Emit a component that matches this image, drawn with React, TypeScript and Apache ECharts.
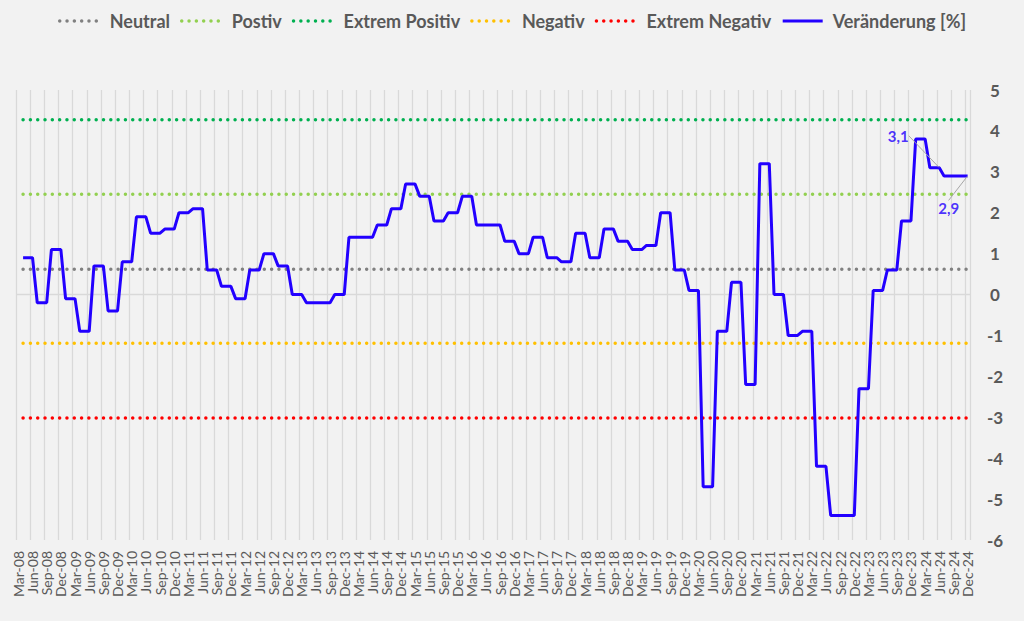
import React, { useEffect, useRef } from "react";
import * as echarts from "echarts";

// ---- tick labels ----
const MONTHS = ["Jan", "Feb", "Mar", "Apr", "May", "Jun", "Jul", "Aug", "Sep", "Oct", "Nov", "Dec"];
const FIRST_YEAR = 2008;
const FIRST_MONTH = 2; // Mar-08
const LAST_YEAR = 2024;

// ---- series values: quarterly change [%], Q2-08 ... Q4-24 (each held for the 3 months of its quarter) ----
const QUARTERLY_CHANGE = [
  0.9, -0.2, 1.1, // 2008 Q2-Q4
  -0.1, -0.9, 0.7, -0.4, // 2009
  0.8, 1.9, 1.5, 1.6, // 2010
  2.0, 2.1, 0.6, 0.2, // 2011
  -0.1, 0.6, 1.0, 0.7, // 2012
  0.0, -0.2, -0.2, 0.0, // 2013
  1.4, 1.4, 1.7, 2.1, // 2014
  2.7, 2.4, 1.8, 2.0, // 2015
  2.4, 1.7, 1.7, 1.3, // 2016
  1.0, 1.4, 0.9, 0.8, // 2017
  1.5, 0.9, 1.6, 1.3, // 2018
  1.1, 1.2, 2.0, 0.6, // 2019
  0.1, -4.7, -0.9, 0.3, // 2020
  -2.2, 3.2, 0.0, -1.0, // 2021
  -0.9, -4.2, -5.4, -5.4, // 2022
  -2.3, 0.1, 0.6, 1.8, // 2023
  3.8, 3.1, 2.9, 2.9, // 2024
];

// ---- reference levels ----
const NEUTRAL = 0.62;
const POSITIVE = 2.45;
const EXTREME_POSITIVE = 4.27;
const NEGATIVE = -1.19;
const EXTREME_NEGATIVE = -3.02;

// ---- labelled points ----
const LABELED_MONTHS = ["Jun-24", "Dec-24"];

// ---- axis range ----
const Y_MIN = -6;
const Y_MAX = 5;

// ---- derived tables ----
const categories: string[] = [];
for (let y = FIRST_YEAR; y <= LAST_YEAR; y++) {
  for (let m = 0; m < 12; m++) {
    if (y === FIRST_YEAR && m < FIRST_MONTH) continue;
    categories.push(`${MONTHS[m]}-${String(y).slice(2)}`);
  }
}
const monthly: (number | null)[] = [null];
QUARTERLY_CHANGE.forEach((v) => monthly.push(v, v, v));
const level = (v: number) => monthly.map((m) => (m === null ? null : v));

const FONT = "Lato";
const TEXT = "#595959";
const GRID = "#d9d9d9";
const BLUE = "#2200ff";

const dotted = (name: string, value: number, color: string, extra: any = {}) => ({
  name,
  type: "line",
  data: level(value),
  symbol: "none",
  silent: true,
  z: 2,
  lineStyle: { color, width: 3.5, type: [0.01, 7.3], cap: "round" },
  itemStyle: { color },
  ...extra,
});

export default function App() {
  const ref = useRef<HTMLDivElement>(null);
  useEffect(() => {
    if (!ref.current) return;
    const chart = echarts.init(ref.current, null, { renderer: "svg" });
    const labeled = LABELED_MONTHS.map((c) => {
      const i = categories.indexOf(c);
      return [i, monthly[i]];
    });
    chart.setOption({
      animation: false,
      backgroundColor: "#f2f2f2",
      textStyle: { fontFamily: FONT },
      legend: {
        top: 7,
        left: "center",
        itemWidth: 40,
        itemHeight: 4,
        itemGap: 10,
        itemStyle: { opacity: 0, borderWidth: 0 },
        lineStyle: { width: "inherit", type: "inherit", cap: "inherit" },
        data: ["Neutral", "Postiv", "Extrem Positiv", "Negativ", "Extrem Negativ", "Veränderung [%]"],
        textStyle: { color: TEXT, fontSize: 18, fontWeight: "bold", fontFamily: FONT, padding: [0, 0, 0, 5] },
      },
      grid: { left: 16, right: 54, top: 90, bottom: 81, containLabel: false, outerBoundsMode: "none" },
      xAxis: {
        type: "category",
        data: categories,
        boundaryGap: true,
        axisLine: { show: false },
        axisTick: { show: false, interval: 2 },
        axisLabel: { interval: 2, rotate: 90, fontSize: 14, color: TEXT, margin: 11, fontFamily: FONT },
        splitLine: { show: true, interval: 2, lineStyle: { color: GRID, width: 1.3 } },
      },
      yAxis: {
        type: "value",
        position: "right",
        min: Y_MIN,
        max: Y_MAX,
        interval: 1,
        axisLine: { show: false },
        axisTick: { show: false },
        splitLine: { show: false },
        axisLabel: { fontSize: 17, fontWeight: "bold", color: TEXT, margin: 25, align: "center", fontFamily: FONT },
      },
      series: [
        dotted("Neutral", NEUTRAL, "#808080", {
          markLine: {
            silent: true,
            symbol: "none",
            label: { show: false },
            lineStyle: { color: GRID, width: 1.3, type: "solid" },
            data: [{ yAxis: 0 }],
          },
        }),
        dotted("Postiv", POSITIVE, "#92d050"),
        dotted("Extrem Positiv", EXTREME_POSITIVE, "#00b050"),
        dotted("Negativ", NEGATIVE, "#ffc000"),
        dotted("Extrem Negativ", EXTREME_NEGATIVE, "#ff0000"),
        {
          name: "Veränderung [%]",
          type: "line",
          data: monthly,
          symbol: "none",
          z: 5,
          lineStyle: { color: BLUE, width: 3 },
          itemStyle: { color: BLUE },
        },
        {
          name: "labels",
          type: "scatter",
          data: labeled,
          symbolSize: 1,
          silent: true,
          z: 6,
          itemStyle: { color: "rgba(0,0,0,0)" },
          label: {
            show: true,
            position: "inside",
            formatter: (p: any) => Number(p.value[1]).toFixed(1).replace(".", ","),
            color: BLUE,
            fontWeight: "bold",
            fontSize: 15,
            fontFamily: FONT,
          },
          labelLine: { show: true, lineStyle: { color: "#a6a6a6", width: 1 } },
          labelLayout: (p: any) => (p.dataIndex === 0 ? { dx: -41, dy: -32 } : { dx: -19, dy: 32 }),
        },
      ],
    });
    return () => chart.dispose();
  }, []);
  return <div ref={ref} style={{ position: "fixed", left: 0, top: 0, width: 1024, height: 621 }} />;
}
